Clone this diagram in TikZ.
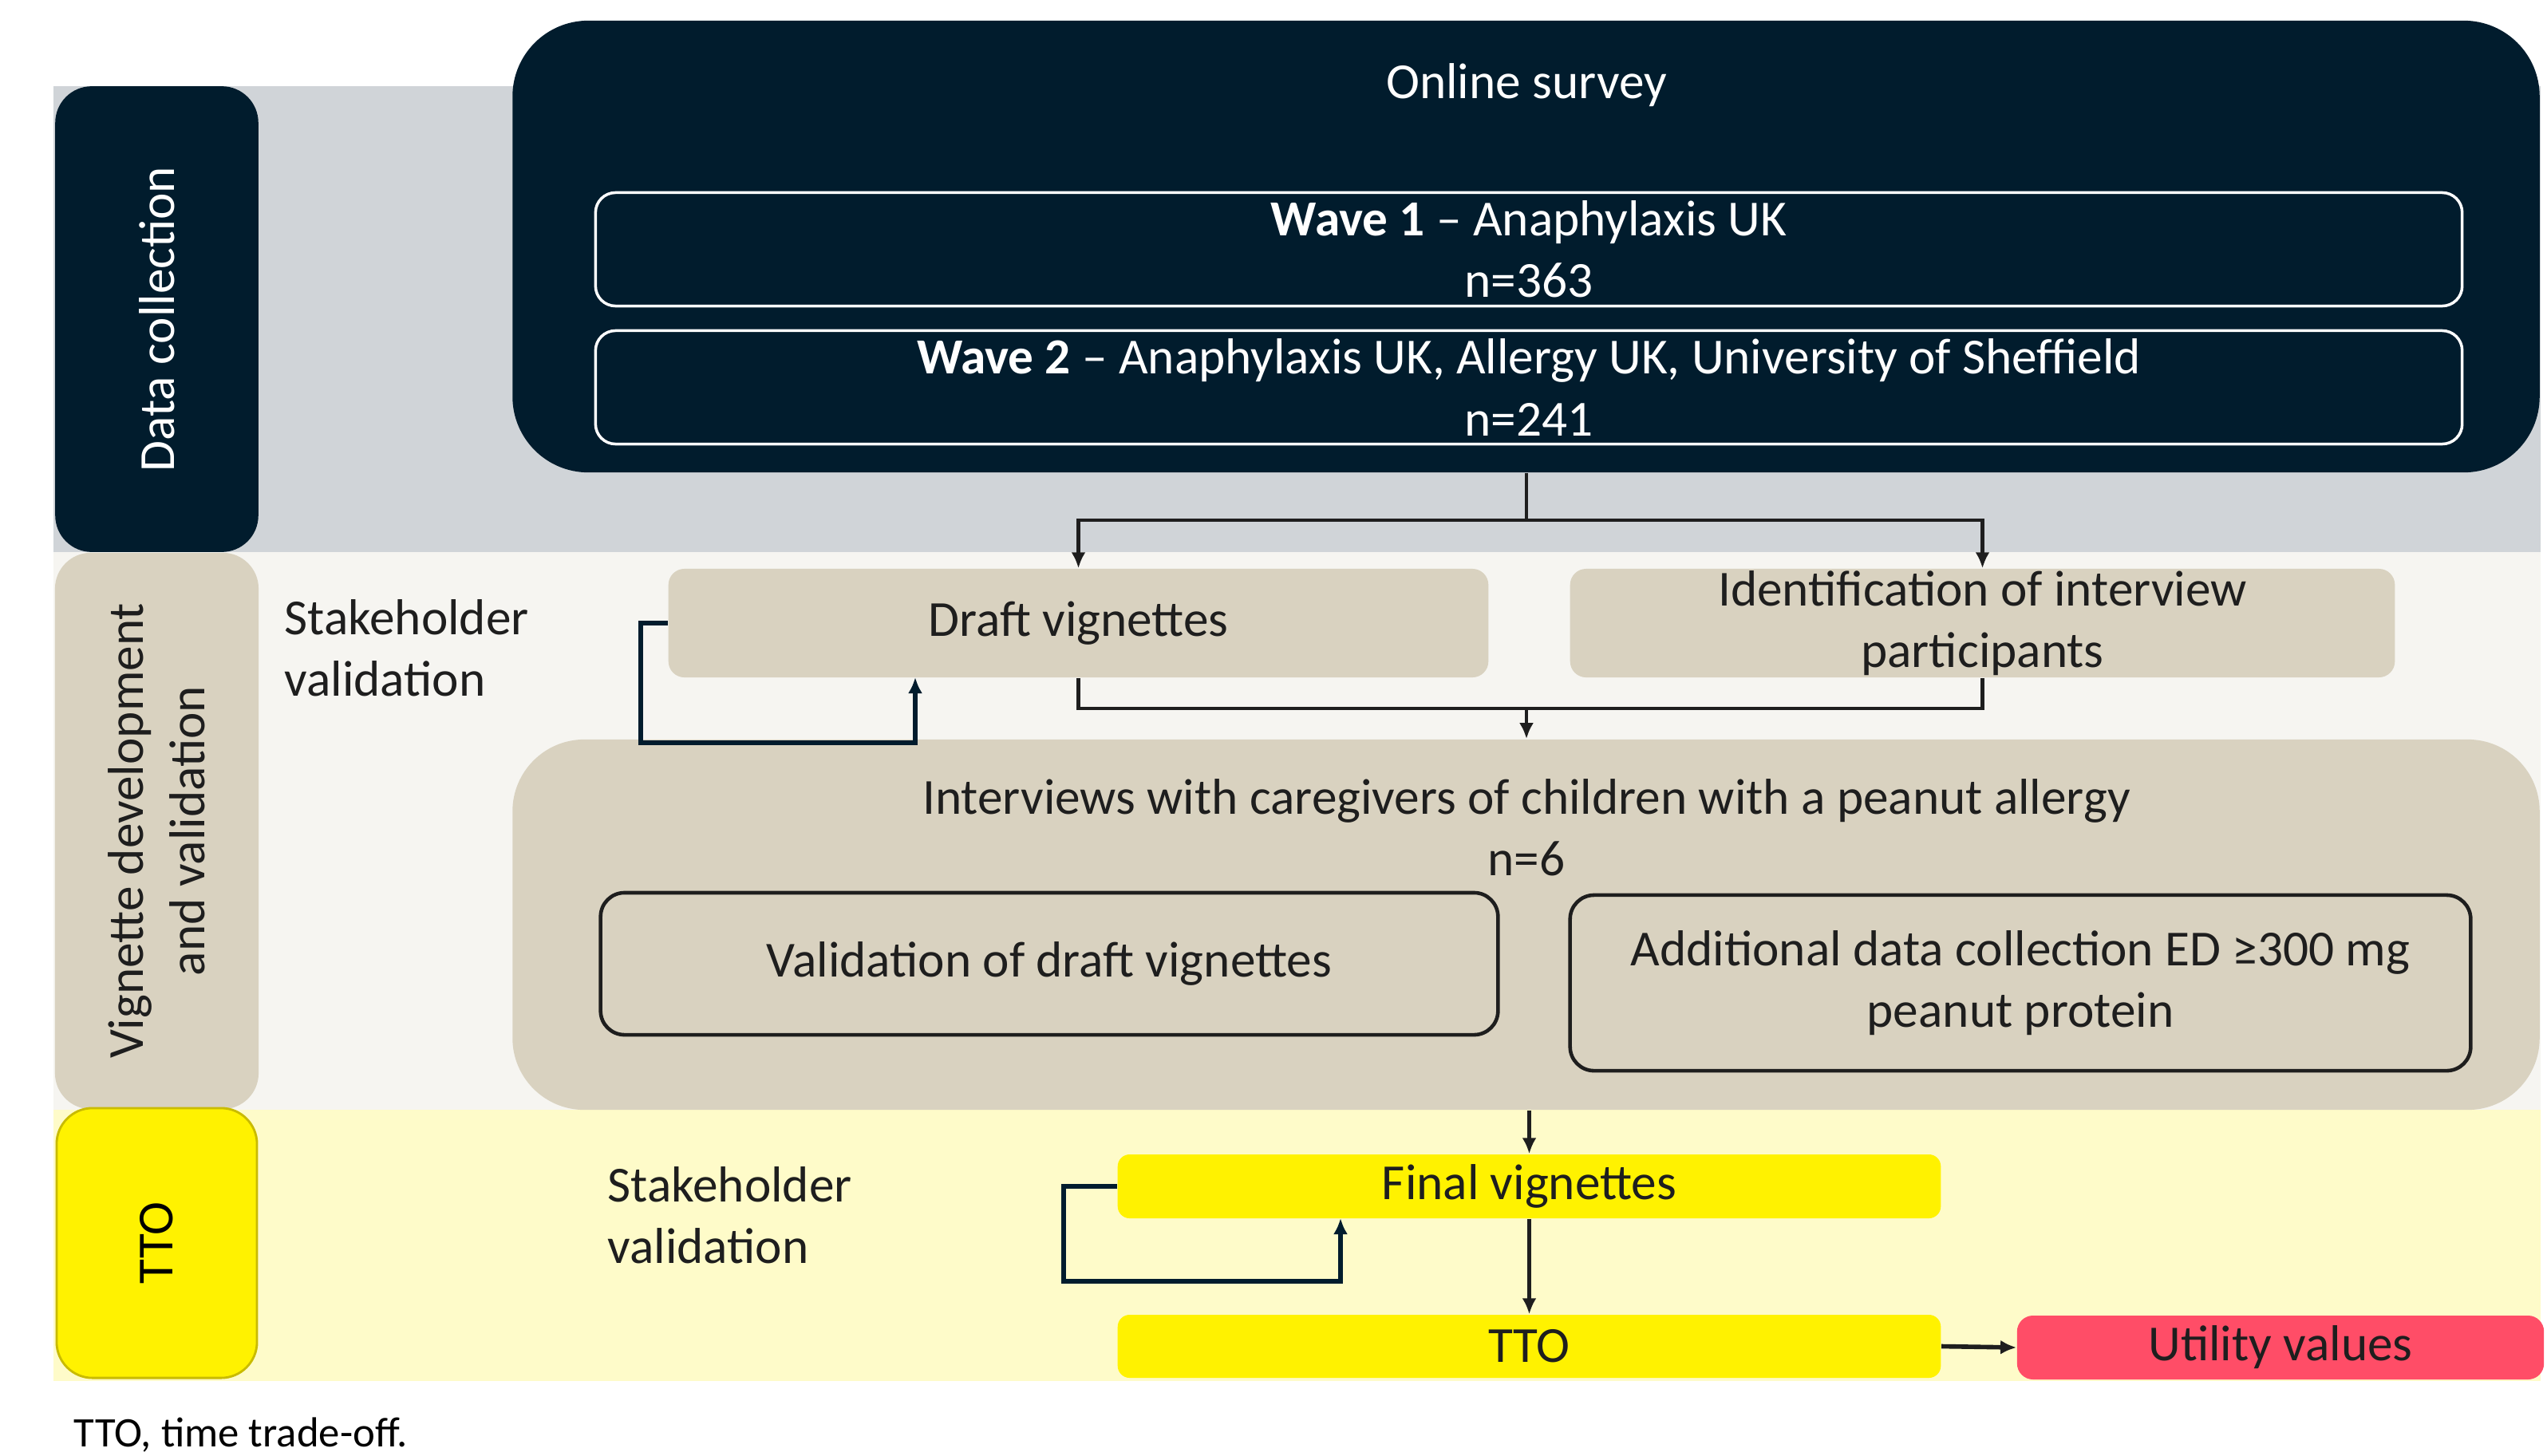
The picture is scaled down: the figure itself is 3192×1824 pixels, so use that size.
\documentclass[tikz,border=0pt]{standalone}
\usepackage{fontspec}
\setmainfont{Carlito}
\usetikzlibrary{arrows.meta}

\definecolor{navy}{HTML}{011C2D}
\definecolor{beige}{HTML}{D9D2C0}
\definecolor{greyband}{HTML}{D0D4D8}
\definecolor{paleband}{HTML}{F6F5F1}
\definecolor{yellowband}{HTML}{FEFBC9}
\definecolor{brightyellow}{HTML}{FFF200}
\definecolor{darkyellow}{HTML}{C9BB00}
\definecolor{utilred}{HTML}{FF4D67}
\definecolor{ink}{HTML}{1E1E1E}

\begin{document}
\begin{tikzpicture}[x=0.01cm,y=-0.01cm,font=\fontsize{18}{22}\selectfont]
\tikzstyle sidebox=[rotate=90, rounded corners=0.45cm, inner sep=0pt, align=center];
\tikzstyle bigbox=[fill=navy, rounded corners=0.95cm, inner sep=0pt];
\tikzstyle wavebox=[draw=white, line width=1pt, rounded corners=0.25cm, text=white, align=center, inner sep=0pt];
\tikzstyle stepbox=[fill=beige, rounded corners=0.2cm, text=ink, align=center, inner sep=0pt];
\tikzstyle subbox=[draw=ink, line width=1.3pt, rounded corners=0.3cm, text=ink, align=center, inner sep=0pt];
\tikzstyle ttostep=[fill=brightyellow, rounded corners=0.15cm, text=ink, inner sep=0pt];
\tikzstyle note=[text=ink, align=left, inner sep=0pt];
\tikzstyle conn=[draw=ink, line width=1.3pt, -{Latex[length=2mm,width=1.8mm]}];
\tikzstyle fb=[draw=navy, line width=1.5pt, -{Latex[length=2mm,width=1.8mm]}];
\useasboundingbox (0,0) rectangle (3192,1824);

% background bands
\fill[greyband] (67,108) rectangle (3184,692);
\fill[paleband] (67,692) rectangle (3184,1391);
\fill[yellowband] (67,1391) rectangle (3184,1731);

% phase labels
\node[sidebox, fill=navy, draw=navy, text=white, minimum width=5.82cm, minimum height=2.53cm] (dc) at (196.5,400) {Data collection};
\node[sidebox, fill=beige, text=ink, minimum width=6.97cm, minimum height=2.55cm] (vdv) at (196.5,1041.5) {Vignette development\\and validation};
\node[sidebox, fill=brightyellow, draw=darkyellow, line width=0.8pt, text=black, minimum width=3.38cm, minimum height=2.51cm] (tto) at (196.5,1558) {TTO};

% online survey
\node[bigbox, minimum width=25.39cm, minimum height=5.66cm] (survey) at (1912.5,309) {};
\node[text=white, inner sep=0pt] (surveytitle) at (1913,107) {Online survey};
\node[wavebox, minimum width=23.38cm, minimum height=1.42cm] (wave1) at (1916,312.5) {\textbf{Wave 1} -- Anaphylaxis UK\\n=363};
\node[wavebox, minimum width=23.38cm, minimum height=1.42cm] (wave2) at (1916,485.5) {\textbf{Wave 2} -- Anaphylaxis UK, Allergy UK, University of Sheffield\\n=241};

% vignette development
\node[stepbox, minimum width=10.27cm, minimum height=1.36cm] (draft) at (1351.5,781) {\raisebox{-0.6mm}{Draft vignettes}};
\node[stepbox, minimum width=10.33cm, minimum height=1.36cm] (ident) at (2484.5,781) {Identification of interview\\participants};
\node[note, anchor=west] (stake1) at (356,812) {Stakeholder\\validation};

\node[fill=beige, rounded corners=0.9cm, minimum width=25.39cm, minimum height=4.64cm, inner sep=0pt] (interviews) at (1912.5,1159) {};
\node[text=ink, align=center, inner sep=0pt] (intertitle) at (1913,1037) {Interviews with caregivers of children with a peanut allergy\\n=6};
\node[subbox, minimum width=11.24cm, minimum height=1.78cm] (valid) at (1315,1208) {\raisebox{-0.6mm}{Validation of draft vignettes}};
\node[subbox, minimum width=11.28cm, minimum height=2.20cm] (extra) at (2532,1232) {Additional data collection ED ≥300 mg\\peanut protein};

% TTO
\node[ttostep, minimum width=10.31cm, minimum height=0.80cm] (final) at (1916.5,1487) {\raisebox{-0.6mm}{Final vignettes}};
\node[ttostep, minimum width=10.31cm, minimum height=0.79cm] (ttostep) at (1916.5,1687.5) {TTO};
\node[fill=utilred, rounded corners=0.2cm, text=ink, minimum width=6.60cm, minimum height=0.80cm, inner sep=0pt] (utility) at (2858,1689) {\raisebox{-0.5mm}{Utility values}};
\node[note, anchor=west] (stake2) at (761,1523) {Stakeholder\\validation};

\node[text=black, anchor=base west, inner sep=0pt, font=\fontsize{15}{18}\selectfont] (footnote) at (92,1813) {TTO, time trade-off.};

% connectors
\coordinate (split) at (1913,652);
\draw[conn, -] (survey.south -| split) -- (split);
\draw[conn] (split) -| (draft.north);
\draw[conn] (split) -| (ident.north);
\coordinate (join) at (1913,888);
\draw[conn, -] (draft.south) |- (join) -| (ident.south);
\draw[conn] (join) -- (interviews.north -| join);
\coordinate (draftin) at (1147,849);
\draw[fb] (draft.west) -- ++(-34,0) |- (1147,931) -- (draftin);
\draw[conn] (interviews.south -| final.north) -- (final.north);
\coordinate (finalin) at (1680,1527);
\draw[fb] (final.west) -- ++(-67,0) |- (1680,1606) -- (finalin);
\draw[conn] (final.south) -- (ttostep.north);
\draw[conn, line width=1.6pt] (ttostep.east) -- (utility.west);
\end{tikzpicture}
\end{document}
